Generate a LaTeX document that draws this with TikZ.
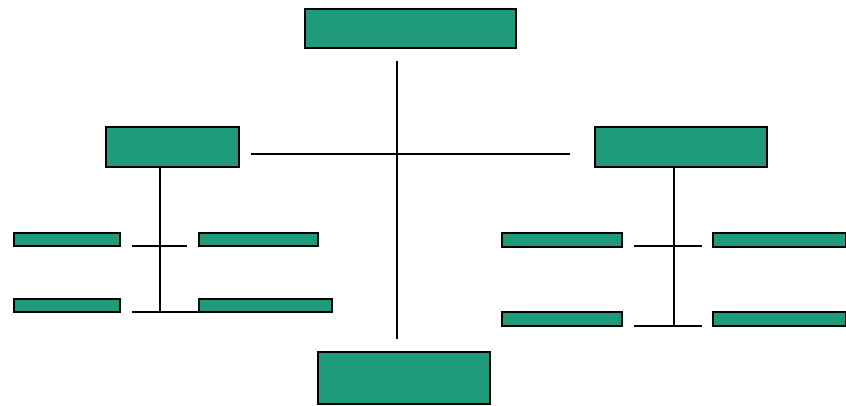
\documentclass[tikz,border=0pt]{standalone}
\definecolor{teal1}{RGB}{31,155,123}
\tikzset{
  box/.style={draw=black, fill=teal1, line width=1.5pt, inner sep=0pt, outer sep=0pt},
  conn/.style={draw=black, line width=1.5pt}
}
\newcommand{\bx}[5]{\node[box, minimum width={#4-#2}, minimum height={#5-#3}] (#1) at ({(#2+#4)/2},{(#3+#5)/2}) {};}
\begin{document}
\begin{tikzpicture}[x=1pt,y=-1pt]
\useasboundingbox (0,0) rectangle (846,406);
% boxes: name, x1, y1, x2, y2
\bx{top}{305}{9}{516}{48}
\bx{bottom}{318}{352}{490}{404}
\bx{left}{106}{127}{239}{167}
\bx{right}{595}{127}{767}{167}
\bx{la}{14}{233}{120}{246}
\bx{lb}{199}{233}{318}{246}
\bx{lc}{14}{299}{120}{312}
\bx{ld}{199}{299}{332}{312}
\bx{ra}{502}{233}{622}{247}
\bx{rb}{713}{233}{846}{247}
\bx{rc}{502}{312}{622}{326}
\bx{rd}{713}{312}{846}{326}
% coordinates
\coordinate (v1) at (397,61);
\coordinate (v2) at (397,339);
\coordinate (h1) at (251,154);
\coordinate (h2) at (570,154);
\coordinate (lv1) at (160,167);
\coordinate (lv2) at (160,312);
\coordinate (lt1) at (132,246);
\coordinate (lt2) at (187,246);
\coordinate (lb1) at (132,312);
\coordinate (lb2) at (199,312);
\coordinate (rv1) at (674,167);
\coordinate (rv2) at (674,326);
\coordinate (rt1) at (634,246);
\coordinate (rt2) at (702,246);
\coordinate (rb1) at (634,326);
\coordinate (rb2) at (702,326);
% connectors
\draw[conn] (v1) -- (v2);
\draw[conn] (h1) -- (h2);
\draw[conn] (lv1) -- (lv2);
\draw[conn] (lt1) -- (lt2);
\draw[conn] (lb1) -- (lb2);
\draw[conn] (rv1) -- (rv2);
\draw[conn] (rt1) -- (rt2);
\draw[conn] (rb1) -- (rb2);
\end{tikzpicture}
\end{document}
